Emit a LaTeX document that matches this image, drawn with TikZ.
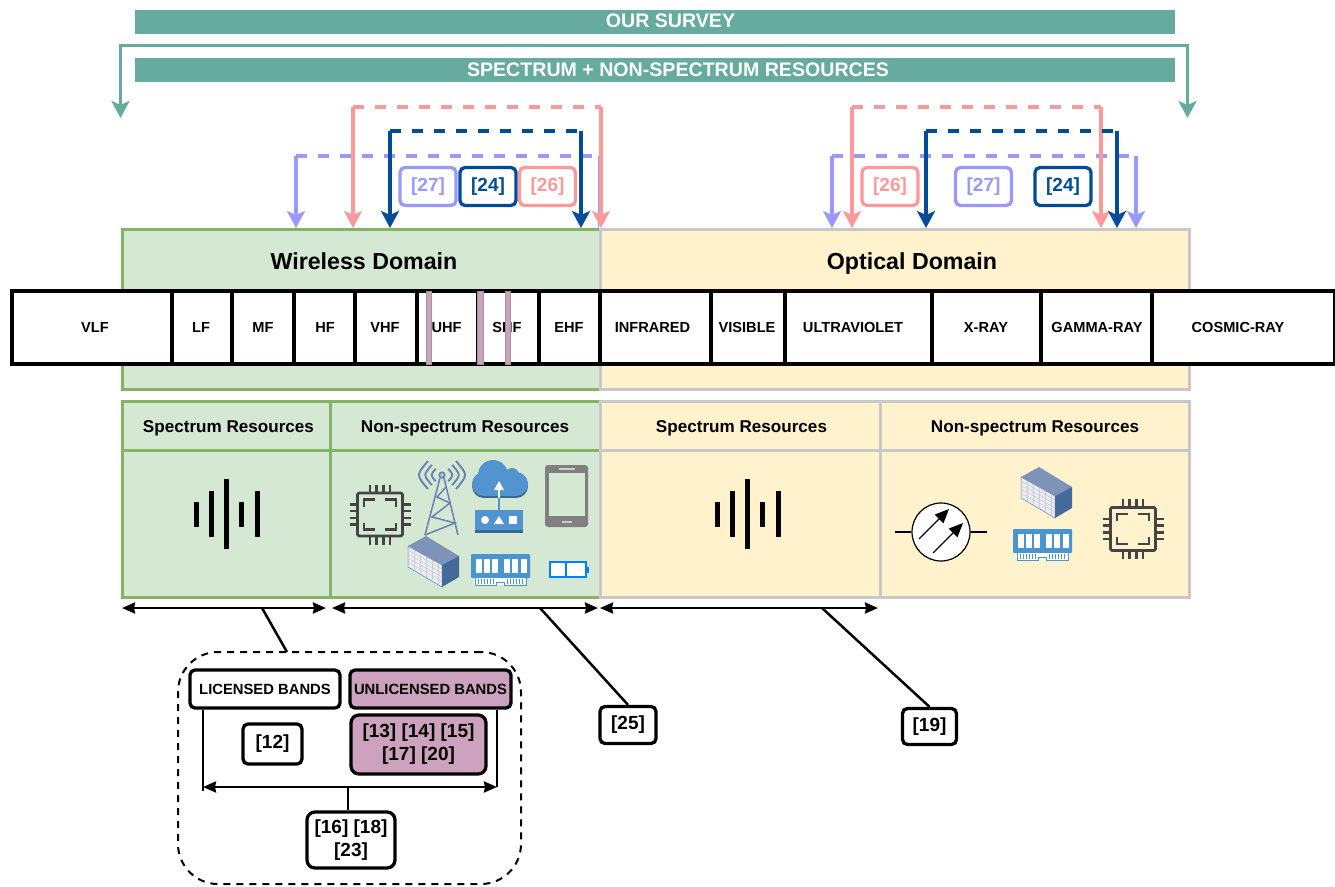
\documentclass[tikz,border=0pt]{standalone}
\usepackage{fontspec}
\setmainfont{Liberation Sans}
\usepackage{xcolor}
\usepackage{tikz}
\usetikzlibrary{arrows.meta}
\usetikzlibrary{positioning}
\definecolor{surveyteal}{HTML}{67AB9F}
\definecolor{refpink}{HTML}{FF9999}
\definecolor{refnavy}{HTML}{004C99}
\definecolor{refviolet}{HTML}{9999FF}
\definecolor{wirelessfill}{HTML}{D5E8D4}
\definecolor{wirelessline}{HTML}{82B366}
\definecolor{opticalfill}{HTML}{FFF2CC}
\definecolor{opticalline}{HTML}{C8C8C8}
\definecolor{unlicensed}{HTML}{CDA2BE}
\definecolor{chipgrey}{HTML}{444444}
\definecolor{iconblue}{HTML}{5294CF}
\definecolor{ramblue}{HTML}{4A95D0}
\definecolor{towerblue}{HTML}{6881B3}
\definecolor{racktop}{HTML}{7E93B8}
\definecolor{rackside}{HTML}{44699A}
\tikzset{>=latex}

\begin{document}
\begin{tikzpicture}[
        x=1pt, y=-1pt,
        boldtext/.style={font=\fontsize{#1}{#1}\selectfont\bfseries, inner sep=0pt, align=center},
        banner/.style={fill=surveyteal, minimum width=1040pt, minimum height=24pt},
        bannertext/.style={text=white, boldtext=19.6},
        domainwireless/.style={draw=wirelessline, fill=wirelessfill, line width=3pt, inner sep=0pt},
        domainoptical/.style={draw=opticalline, fill=opticalfill, line width=3pt, inner sep=0pt},
        bandbox/.style={draw=black, fill=white, line width=3.3pt, minimum height=73pt},
        bandtext/.style={boldtext=14.6},
        slot/.style={fill=unlicensed, draw=black!40, line width=0.3pt, minimum width=5.5pt, minimum height=73pt, inner sep=0pt},
        domaintitle/.style={boldtext=23.2, anchor=base},
        resourcetitle/.style={boldtext=17.1, anchor=base},
        refbox/.style={draw, rounded corners=5pt, line width=3.3pt, boldtext=19, fill=white},
        surveylink/.style={surveyteal, line width=3pt},
        dashlink/.style={line width=3.5pt, dash pattern=on 11pt off 11pt},
        droplink/.style={line width=3.5pt, -{Stealth[length=17pt,width=18pt,inset=4pt]}},
        span/.style={line width=2.5pt, {Stealth[length=13pt,width=11pt,inset=1pt]}-{Stealth[length=13pt,width=11pt,inset=1pt]}},
        callout/.style={line width=2.5pt}
    ]

    \useasboundingbox (0,0) rectangle (1335,886);

    %=== Icon macros ===%
    % #1 = x of the centre
    % #2 = y of the centre
    \newcommand{\waveicon}[2]{
        \begin{scope}[shift={(#1,#2)}, line width=5pt]
            \draw (-30,-12.5) -- (-30,12.5);
            \draw (-15,-23) -- (-15,23);
            \draw (0,-35) -- (0,35);
            \draw (15.5,-12.5) -- (15.5,12.5);
            \draw (31,-23) -- (31,23);
        \end{scope}
    }
    \newcommand{\chipicon}[2]{
        \begin{scope}[shift={(#1,#2)}, chipgrey, line width=2.7pt]
            \draw[rounded corners=1.5pt] (-22.5,-21.5) rectangle (22.5,21.5);
            \foreach \p in {-10,-3.5,3.5,10} {
                \draw (\p,-30) -- (\p,-21.5);
                \draw (\p,30) -- (\p,21.5);
                \draw (-30.5,\p) -- (-22.5,\p);
                \draw (30.5,\p) -- (22.5,\p);
            }
            \draw (-16,-8) -- (-16,-15) -- (-5,-15);
            \draw (5,-15) -- (16,-15) -- (16,-8);
            \draw (-16,8) -- (-16,15) -- (-5,15);
            \draw (5,15) -- (16,15) -- (16,8);
        \end{scope}
    }
    % anchored at the top corner of the rack
    \newcommand{\rackicon}[2]{
        \begin{scope}[shift={(#1,#2)}]
            \fill[white!85!towerblue, draw=towerblue, line width=0.5pt] (-18,10) -- (16,29) -- (16,51) -- (-18,31) -- cycle;
            \foreach \r in {4,8,12,16} {
                \draw[black!20, line width=0.5pt] (-18,10+\r) -- (16,29+\r);
            }
            \foreach \r in {6,12,18,24,30} {
                \draw[black!20, line width=0.5pt] (-18+\r,10+\r*0.56) -- ++(0,21);
            }
            \fill[racktop] (0,0) -- (33,20) -- (16,29) -- (-18,10) -- cycle;
            \fill[rackside] (33,20) -- (33,41) -- (16,51) -- (16,29) -- cycle;
        \end{scope}
    }
    % anchored at the top left corner of the module
    \newcommand{\ramicon}[2]{
        \begin{scope}[shift={(#1,#2)}]
            \fill[ramblue, rounded corners=1pt] (0,0) rectangle (59,24);
            \fill[white] (3,31) rectangle (56,24);
            \draw[ramblue, line width=1pt] (4,24) -- (4,31) -- (25,31) -- (25,28) -- (33,28) -- (33,31) -- (55,31) -- (55,24);
            \foreach \c in {4.5,12.8,21,32.6,41,50} {
                \fill[white] (\c,5) rectangle ++(6,13.5);
            }
            \foreach \c in {7,10,...,22} {
                \draw[ramblue, line width=0.6pt] (\c,25) -- (\c,30);
            }
            \foreach \c in {36,39,...,51} {
                \draw[ramblue, line width=0.6pt] (\c,25) -- (\c,30);
            }
        \end{scope}
    }

    %=== Survey banners ===%
    \node[banner] (survey) at (655,22) {};
    \node[banner] (resources) at (655,70) {};
    \node[bannertext] (surveytext) at (670.5,20.5) {OUR SURVEY};
    \node[bannertext] (resourcestext) at (678,69.5) {SPECTRUM + NON-SPECTRUM RESOURCES};

    \coordinate (surveyL) at (120.5,118);
    \coordinate (surveyR) at (1187.5,118);
    \draw[surveylink, {Stealth[length=17pt,width=18pt,inset=4pt]}-{Stealth[length=17pt,width=18pt,inset=4pt]}] (surveyL) -- (120.5,45) -- (1187.5,45) -- (surveyR);

    %=== Domains ===%
    \node[domainwireless, minimum width=478pt, minimum height=160pt] (wireless) at (361,309) {};
    \node[domainoptical, minimum width=589pt, minimum height=160pt] (optical) at (894.5,309) {};
    \node[domaintitle] (wirelesstitle) at (364,269) {Wireless Domain};
    \node[domaintitle] (opticaltitle) at (912,269) {Optical Domain};

    %=== Frequency bands ===%
    \foreach \xa/\xb/\xt/\lab/\nm in {
        12/172/95/VLF/vlf, 172/232/201/LF/lf, 232/294/263/MF/mf, 294/355/325/HF/hf,
        355/417/385/VHF/vhf, 417/478/446.5/UHF/uhf, 478/539/507/SHF/shf, 539/600/569/EHF/ehf,
        600/711/652.5/INFRARED/infrared, 711/785/747/VISIBLE/visible,
        785/932/853/ULTRAVIOLET/ultraviolet, 932/1041/986/X-RAY/xray,
        1041/1152/1097/GAMMA-RAY/gamma, 1152/1335/1238/COSMIC-RAY/cosmic} {
        \node[bandbox, minimum width={(\xb-\xa)*1pt}] (\nm) at ({(\xa+\xb)/2},327.5) {};
        \node[bandtext] (\nm text) at (\xt,327.5) {\lab};
    }
    \node[slot] (slotA) at (428.5,327.5) {};
    \node[slot] (slotB) at (480,327.5) {};
    \node[slot] (slotC) at (507.5,327.5) {};

    %=== Resource panels ===%
    % #1 = name, #2 = left, #3 = right, #4 = style, #5 = title, #6 = x of the title
    \newcommand{\panel}[6]{
        \node[#4, minimum width={(#3-#2)*1pt}, minimum height=196pt] (#1) at ({(#2+#3)/2},499) {};
        \draw[#4] (#2,450) -- (#3,450);
        \node[resourcetitle] (#1title) at (#6,432) {#5};
    }
    \panel{wirelessspec}{122}{330}{domainwireless}{Spectrum Resources}{228.5}
    \panel{wirelessnon}{330}{600}{domainwireless}{Non-spectrum Resources}{465}
    \panel{opticalspec}{600}{880}{domainoptical}{Spectrum Resources}{741.5}
    \panel{opticalnon}{880}{1189}{domainoptical}{Non-spectrum Resources}{1035}

    %=== Icons ===%
    \waveicon{226}{514}
    \waveicon{747}{514}
    \chipicon{380}{514.5}
    \chipicon{1133}{529}
    \rackicon{426}{536}
    \rackicon{1039}{467}
    \ramicon{471}{554}
    \ramicon{1013}{529}

    % Antenna
    \begin{scope}[towerblue, line width=1.5pt]
        \draw (425,535) -- (440,478) (458,535) -- (444,478);
        \draw (425,535) -- (455,523) -- (432,517) -- (450,503) -- (437,497) -- (446,487);
        \draw[fill=towerblue!50] (442,475) circle (2.8);
        \foreach \r in {9,14.5,20} {
            \draw[line width=1.9pt] ({442-\r*0.7},{475-\r*0.7}) .. controls ({442-\r*1.3},475) .. ({442-\r*0.7},{475+\r*0.7});
            \draw[line width=1.9pt] ({442+\r*0.7},{475-\r*0.7}) .. controls ({442+\r*1.3},475) .. ({442+\r*0.7},{475+\r*0.7});
        }
    \end{scope}

    % Cloud and router
    \foreach \col/\dy in {iconblue!70!black/2, iconblue/0} {
        \begin{scope}[yshift=-\dy pt]
            \fill[\col] (493,475) circle (15);
            \fill[\col] (512,475) circle (7);
            \fill[\col] (484,484) circle (12);
            \fill[\col] (516,484) circle (12);
            \fill[\col] (484,476) rectangle (516,496);
        \end{scope}
    }
    \fill[iconblue] (497.7,496) rectangle (500.3,510);
    \fill[white] (497.7,488) rectangle (500.3,498);
    \fill[white] (494,490) -- (499,481) -- (504,490) -- cycle;
    \fill[iconblue] (475,510) rectangle (523,533);
    \fill[iconblue!70!black] (475,530) rectangle (523,533);
    \fill[white] (485,520) circle (4);
    \fill[white] (499,516) -- (504,524) -- (494,524) -- cycle;
    \fill[white] (509,516) rectangle (517,524);

    % Tablet
    \fill[gray, rounded corners=3pt] (545,465) rectangle (588,527);
    \fill[wirelessfill] (549,473) rectangle (585,516);
    \fill[wirelessfill!80!gray] (559,468) rectangle (575,470);
    \fill[wirelessfill!80!gray] (562,520.5) rectangle (572,523);

    % Battery
    \begin{scope}[draw=blue!50!cyan, line width=2pt]
        \draw[fill=white] (550,562) rectangle (566,577);
        \draw[fill=white] (566,562) rectangle (586,577);
        \fill[blue!50!cyan] (587,566.5) rectangle (589,572.5);
    \end{scope}

    % Light source
    \node[draw, circle, fill=white, line width=1.2pt, minimum size=58pt, inner sep=0pt] (source) at (941,532) {};
    \coordinate (sourceL) at (895,532);
    \coordinate (sourceR) at (987,532);
    \draw[line width=1.2pt] (sourceL) -- (source.west);
    \draw[line width=1.2pt] (source.east) -- (sourceR);
    \coordinate (beamAa) at (919,539);
    \coordinate (beamAb) at (949,509);
    \coordinate (beamBa) at (933,553);
    \coordinate (beamBb) at (963,523);
    \draw[line width=1.2pt, -{Stealth[length=14pt,width=12pt,inset=0pt]}] (beamAa) -- (beamAb);
    \draw[line width=1.2pt, -{Stealth[length=14pt,width=12pt,inset=0pt]}] (beamBa) -- (beamBb);

    %=== Reference links above the domains ===%
    \node[refbox, draw=refviolet, text=refviolet, minimum width=56pt, minimum height=38pt] (wviolet) at (428,186.5) {[27]};
    \node[refbox, draw=refnavy, text=refnavy, minimum width=56pt, minimum height=38pt] (wnavy) at (488,186.5) {[24]};
    \node[refbox, draw=refpink, text=refpink, minimum width=56pt, minimum height=38pt] (wpink) at (547.5,186.5) {[26]};
    \node[refbox, draw=refpink, text=refpink, minimum width=56pt, minimum height=38pt] (opink) at (890,186.5) {[26]};
    \node[refbox, draw=refviolet, text=refviolet, minimum width=56pt, minimum height=38pt] (oviolet) at (983.5,186.5) {[27]};
    \node[refbox, draw=refnavy, text=refnavy, minimum width=56pt, minimum height=38pt] (onavy) at (1063,186.5) {[24]};

    % #1 = name, #2 = colour, #3 = left, #4 = right, #5 = top of the link, #6 = dashed end
    \newcommand{\reflink}[6]{
        \coordinate (#1A) at (#3,#5);
        \coordinate (#1B) at (#4,#5);
        \coordinate (#1C) at (#3,228);
        \coordinate (#1D) at (#4,228);
        \coordinate (#1E) at (#6,#5);
        \draw[droplink, #2] (#1A) -- (#1C);
        \draw[droplink, #2] (#1B) -- (#1D);
        \draw[dashlink, #2] (#1A) -- (#1E);
    }
    % The right side of this one stops behind the pink arrow
    \coordinate (wvA) at (296,156);
    \coordinate (wvC) at (296,228);
    \coordinate (wvE) at (592,156);
    \coordinate (wvB) at (598.5,156);
    \coordinate (wvD) at (598.5,228);
    \draw[droplink, refviolet] (wvA) -- (wvC);
    \draw[dashlink, refviolet] (wvA) -- (wvE);
    \draw[line width=1pt, refviolet] (wvB) -- (wvD);
    \reflink{wn}{refnavy}{390}{581}{131}{581}
    \reflink{wp}{refpink}{353}{601}{107}{601}
    \reflink{ov}{refviolet}{832}{1136}{156}{1131}
    \reflink{op}{refpink}{852}{1101}{107}{1101}
    \reflink{on}{refnavy}{926}{1117}{131}{1116}

    %=== Spans below the panels ===%
    \coordinate (spanAa) at (122,608);
    \coordinate (spanAb) at (326,608);
    \coordinate (spanBa) at (332,608);
    \coordinate (spanBb) at (598,608);
    \coordinate (spanCa) at (600,608);
    \coordinate (spanCb) at (878,608);
    \draw[span] (spanAa) -- (spanAb);
    \draw[span] (spanBa) -- (spanBb);
    \draw[span] (spanCa) -- (spanCb);

    \node[refbox, minimum width=56pt, minimum height=37pt] (refnon) at (628,725) {[25]};
    \node[refbox, minimum width=54pt, minimum height=36pt] (refoptical) at (929.5,726.5) {[19]};
    \coordinate (tapB) at (540,608);
    \coordinate (tapC) at (822,608);
    \draw[callout] (tapB) -- (refnon.north);
    \draw[callout] (tapC) -- (refoptical.north);

    %=== Band groups ===%
    \node[draw, rounded corners=40pt, line width=2pt, minimum width=343pt, minimum height=232pt, dash pattern=on 7pt off 6pt] (group) at (349.5,768) {};
    \coordinate (tapA) at (262,608);
    \coordinate (tapAend) at (287,652);
    \draw[callout] (tapA) -- (tapAend);

    \node[refbox, boldtext=14.8, minimum width=150pt, minimum height=38pt] (licensed) at (265,689) {LICENSED BANDS};
    \node[refbox, boldtext=14.8, fill=unlicensed, minimum width=161pt, minimum height=38pt] (unlicensedbands) at (430.5,689) {UNLICENSED BANDS};
    \node[refbox, minimum width=59pt, minimum height=40pt] (reflic) at (272.5,744) {[12]};
    \node[refbox, fill=unlicensed, minimum width=135pt, minimum height=59pt, rounded corners=8pt] (refunlic) at (418.5,744.5) {[13] [14] [15]\\[4pt] [17] [20]};
    \node[refbox, rounded corners=8pt, minimum width=88pt, minimum height=56pt] (refboth) at (351,840) {[16] [18]\\[4pt] [23]};

    \coordinate (bothL) at (203,787);
    \coordinate (bothR) at (497,787);
    \coordinate (bothM) at (348,787);
    \draw[callout] (licensed.south west -| bothL) -- ++(0,81);
    \draw[callout] (unlicensedbands.south west -| bothR) -- (bothR);
    \draw[span] (bothL) -- (bothR);
    \draw[callout] (bothM) -- (bothM |- refboth.north);

\end{tikzpicture}
\end{document}
